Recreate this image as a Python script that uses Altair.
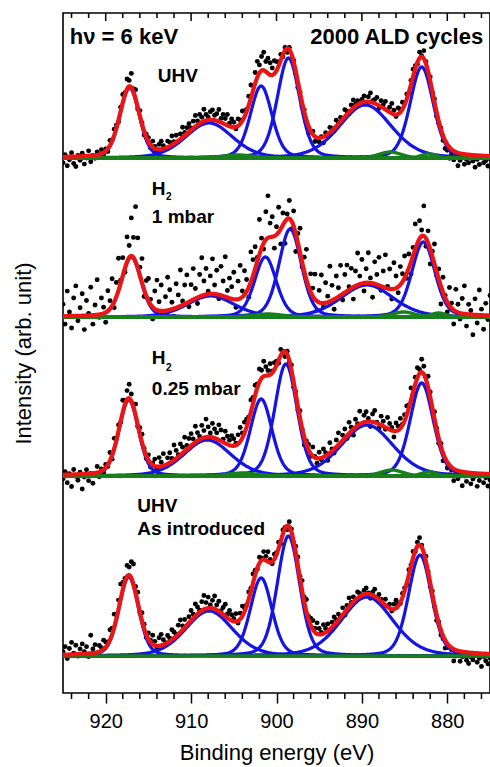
import numpy as np
import pandas as pd
import altair as alt

# ---------------- data ----------------
spectra = ["UHV, 2000 ALD cycles", "H2 1 mbar", "H2 0.25 mbar", "UHV as introduced"]
offsets = [535, 376, 217, 37]          # vertical stacking offset of each spectrum

# Ce 3d components (blue): position (eV), height, FWHM (eV)
fwhm = [2.7, 6.5, 3.0, 3.1, 7.2, 3.2]
eta = 0.25                              # Lorentzian fraction of the pseudo-Voigt
pos_1 = [917.2, 907.9, 901.8, 898.6, 889.6, 883.0]
amp_1 = [70, 35, 72, 100, 53, 91]
pos_2 = [917.0, 907.7, 901.3, 898.4, 889.4, 882.8]
amp_2 = [60, 21, 60, 88, 32, 75]
pos_3 = [917.3, 908.1, 901.8, 898.9, 889.4, 883.0]
amp_3 = [76, 36, 77, 112, 51, 93]
pos_4 = [917.3, 907.9, 901.8, 898.6, 889.4, 883.2]
amp_4 = [79, 45, 78, 120, 59, 101]

# small green components
gpos_1 = [904.5, 886.7, 882.2]
gamp_1 = [3, 6, 4]
gpos_2 = [901.0, 885.1, 881.0]
gamp_2 = [3, 5, 4]
gpos_3 = [904.0, 886.5, 882.2]
gamp_3 = [3, 6, 4]
gpos_4 = []
gamp_4 = []
gfwhm = [4.0, 3.0, 2.0]

# measured points: deviation from the fit, every 0.25 eV from 925 to 875 eV
resid_1 = """
-6 2 -9 -3 4 -7 -10 1 -4 3 -8 -2 5 -6 0 -3 3 -1 4 -2
2 -3 5 1 6 3 -2 4 8 2 10 6 14 3 9 -2 5 1 -4 3
4 -3 6 2 -2 5 8 3 -1 6 4 9 2 7 -1 5 10 3 6 8
2 7 11 4 9 5 12 6 3 8 10 5 7 12 4 9 6 11 3 8
5 -2 7 4 10 6 2 9 13 5 11 16 8 14 18 10 15 12 7 13
9 4 6 -2 3 -4 2 -5 1 -3 -6 0 -4 2 -3 -7 -1 3 -5 -2
-4 1 -6 3 -2 5 2 -3 6 1 4 -1 7 3 -2 5 8 2 4 -1
3 6 -2 5 9 2 4 7 -3 6 3 8 1 5 10 4 -2 6 3 7
2 5 -1 4 7 3 -2 6 1 8 2 -3 4 -1 3 -4 -2 1 -5 -8
-6 -11 -4 -9 -2 -13 -7 -3 -10 -5 -8 -1 -6 -12 -4 -9 -2 -7 -5 -10 -3
"""
resid_2 = """
12 -8 25 4 -12 18 30 -5 8 22 -14 15 2 28 -9 10 35 -3 16 6
-10 20 8 27 -6 14 32 3 18 -4 25 12 38 20 55 30 8 24 -7 15
22 5 -12 18 30 9 26 -3 14 33 20 7 -8 24 12 36 4 19 28 -5
16 31 10 -6 22 38 14 26 3 18 35 9 24 -4 29 15 40 7 20 12
27 -8 18 33 6 24 12 -10 30 16 22 4 35 10 -6 28 42 14 20 -12
8 25 -15 12 -22 5 18 -8 15 -18 9 24 -5 14 30 -2 18 8 25 -9
12 28 -4 20 6 35 15 -10 22 9 30 -6 18 26 3 20 -12 15 32 8
24 -8 14 30 5 -14 22 10 28 -4 16 33 2 20 -10 26 12 -6 18 8
22 -5 14 -12 8 25 -2 18 6 30 -8 12 -15 5 20 -4 10 -18 15 2
-10 18 5 -14 22 8 -6 15 28 -12 10 4 -20 16 -8 25 6 -14 12 -4 20
"""
resid_3 = """
-4 3 -8 1 -12 5 -2 -6 2 -15 -3 4 -7 0 -10 -1 6 -5 2 -3
3 -2 8 -4 10 2 6 -1 12 4 9 14 7 3 11 -2 6 8 1 -3
5 -4 2 7 -2 9 4 12 -1 6 10 3 15 8 2 11 6 14 4 9
12 5 16 8 3 13 7 18 10 4 14 9 6 15 11 3 12 8 5 10
7 2 9 14 5 11 8 3 12 6 10 4 13 8 15 9 5 11 2 7
4 -3 6 1 -5 3 -2 5 -6 2 -4 7 -1 -8 3 5 -3 9 1 -5
6 -2 8 3 -6 10 2 -4 7 12 -1 5 9 -3 11 4 -6 8 2 13
-2 7 10 3 -5 8 12 1 -4 9 5 -2 11 6 3 -6 8 4 10 1
6 9 3 12 -2 7 10 4 13 8 2 11 5 -3 7 1 -5 3 -8 -2
-6 -10 -3 -12 -5 -8 -1 -14 -4 -9 -2 -11 -6 -3 -13 -7 -1 -9 -4 -12 -6
"""
resid_4 = """
3 8 -4 6 12 1 9 -2 5 10 2 7 -3 18 4 8 -1 6 3 9
5 2 10 6 13 4 9 15 7 3 11 8 16 20 6 10 -1 8 4 -3
6 2 9 4 -2 8 11 5 1 7 3 10 6 2 9 12 4 8 -1 6
10 4 12 7 2 9 14 6 11 3 8 13 5 10 2 7 12 4 9 6
3 8 -2 6 10 4 1 7 3 9 5 -1 6 2 8 4 10 3 -2 5
2 6 -3 4 1 -4 5 3 -2 6 8 2 10 5 12 3 7 9 4 11
6 2 9 4 7 -1 5 8 3 6 1 7 -3 4 9 2 5 -2 6 3
-2 4 6 1 -4 3 7 -1 5 2 -3 6 1 4 -2 5 8 2 -1 4
3 -2 5 1 6 -1 4 7 2 -3 5 0 -4 3 -2 -6 1 -5 -3 -8
-4 -9 -2 -12 -6 -3 -10 -5 -1 -8 -11 -4 -7 -2 -9 -5 -13 -3 -7 -10 -4
"""

major_ticks = [920, 910, 900, 890, 880]
minor_ticks = [924, 922, 918, 916, 914, 912, 908, 906, 904, 902, 898, 896, 894, 892,
               888, 886, 884, 882, 878, 876]

# ---------------- build tables ----------------
def pvoigt(x, c, h, w):
    r = ((x - c) / w) ** 2
    return h * ((1 - eta) * np.exp(-4 * np.log(2) * r) + eta / (1 + 4 * r))

e_line = np.round(np.linspace(925, 875, 501), 2)
e_pts = np.round(np.linspace(925, 875, 201), 2)

params = [(pos_1, amp_1, gpos_1, gamp_1, resid_1),
          (pos_2, amp_2, gpos_2, gamp_2, resid_2),
          (pos_3, amp_3, gpos_3, gamp_3, resid_3),
          (pos_4, amp_4, gpos_4, gamp_4, resid_4)]

dots, blue, green, red = [], [], [], []
for s, (name, off, (pos, amp, gp, ga, rs)) in enumerate(zip(spectra, offsets, params)):
    total_line = np.zeros_like(e_line)
    total_pts = np.zeros_like(e_pts)
    for k, (c, h, w) in enumerate(zip(pos, amp, fwhm)):
        yl = pvoigt(e_line, c, h, w)
        total_line += yl
        total_pts += pvoigt(e_pts, c, h, w)
        blue.append(pd.DataFrame({"E": e_line, "I": off + yl, "key": f"{s}-b{k}"}))
    green.append(pd.DataFrame({"E": e_line, "I": off + 0 * e_line, "key": f"{s}-g0"}))
    for k, (c, h) in enumerate(zip(gp, ga)):
        yl = pvoigt(e_line, c, h, gfwhm[k])
        total_line += yl
        total_pts += pvoigt(e_pts, c, h, gfwhm[k])
        green.append(pd.DataFrame({"E": e_line, "I": off + yl, "key": f"{s}-g{k+1}"}))
    red.append(pd.DataFrame({"E": e_line, "I": off + total_line, "key": f"{s}"}))
    r = np.array([float(v) for v in rs.split()])
    assert len(r) == len(e_pts), (s, len(r))
    dots.append(pd.DataFrame({"E": e_pts, "I": off + total_pts + r, "key": f"{s}"}))

dots_df = pd.concat(dots)
blue_df = pd.concat(blue)
green_df = pd.concat(green)
red_df = pd.concat(red)

# annotations (anchor in data coordinates)
hdr_df = pd.DataFrame({"E": [924.2], "I": [649], "t": ["hν = 6 keV"]})
hdr_r_df = pd.DataFrame({"E": [875.8], "I": [649], "t": ["2000 ALD cycles"]})
lab_df = pd.DataFrame({
    "E": [913.9, 914.6, 914.6, 914.6, 914.6, 916.3, 916.3],
    "I": [611, 498, 470, 329.5, 298, 181, 158],
    "t": ["UHV", "H", "1 mbar", "H", "0.25 mbar", "UHV", "As introduced"],
})
sub_df = pd.DataFrame({"E": [912.95, 912.95], "I": [493, 322], "t": ["2", "2"]})
minor_df = pd.DataFrame({"E": minor_ticks})
major_df = pd.DataFrame({"E": major_ticks})

# ---------------- chart ----------------
FONT = "Liberation Sans"
xs = alt.Scale(domain=[875, 925], reverse=True, nice=False, zero=False)
ys = alt.Scale(domain=[0, 680], nice=False, zero=False)
X = alt.X("E:Q", scale=xs, axis=alt.Axis(
    values=major_ticks, title="Binding energy (eV)", format="d",
    labelFontSize=20, labelPadding=8, tickSize=10, tickWidth=1.5, tickColor="black",
    labelColor="black", domain=False, grid=False, titleFontSize=22,
    titleFontWeight="normal", titleColor="black", titleBaseline="alphabetic", titleY=66))
Y = alt.Y("I:Q", scale=ys, axis=alt.Axis(
    title="Intensity (arb. unit)", labels=False, ticks=False, domain=False, grid=False,
    titleFontSize=22, titleFontWeight="normal", titleColor="black",
    titleBaseline="alphabetic", titleX=-33))

l_dots = alt.Chart(dots_df).mark_circle(size=24, color="black", opacity=1, clip=True).encode(
    x=X, y=Y)
l_blue = alt.Chart(blue_df).mark_line(color="#1414e4", strokeWidth=3.2, clip=True).encode(
    x=X, y=Y, detail="key:N")
l_green = alt.Chart(green_df).mark_line(color="#18801a", strokeWidth=3.4, clip=True).encode(
    x=X, y=Y, detail="key:N")
l_red = alt.Chart(red_df).mark_line(color="#ec1515", strokeWidth=4.2, clip=True).encode(
    x=X, y=Y, detail="key:N")

tick_minor_b = alt.Chart(minor_df).mark_rule(color="black", strokeWidth=1.5).encode(
    x=X, y=alt.value(680), y2=alt.value(686))
tick_minor_t = alt.Chart(minor_df).mark_rule(color="black", strokeWidth=1.5).encode(
    x=X, y=alt.value(0), y2=alt.value(5))
tick_major_t = alt.Chart(major_df).mark_rule(color="black", strokeWidth=1.5).encode(
    x=X, y=alt.value(0), y2=alt.value(8))

t_hdr = alt.Chart(hdr_df).mark_text(font=FONT, fontSize=22, fontWeight="bold", align="left",
                                    baseline="alphabetic", color="black").encode(x=X, y=Y, text="t:N")
t_hdr_r = alt.Chart(hdr_r_df).mark_text(font=FONT, fontSize=22, fontWeight="bold", align="right",
                                        baseline="alphabetic", color="black").encode(x=X, y=Y, text="t:N")
t_lab = alt.Chart(lab_df).mark_text(font=FONT, fontSize=19, fontWeight="bold", align="left",
                                    baseline="alphabetic", color="black").encode(x=X, y=Y, text="t:N")
t_sub = alt.Chart(sub_df).mark_text(font=FONT, fontSize=10, fontWeight="bold", align="left",
                                    baseline="alphabetic", color="black").encode(x=X, y=Y, text="t:N")

chart = alt.layer(
    l_dots, l_blue, l_green, l_red, tick_minor_b, tick_minor_t, tick_major_t,
    t_hdr, t_hdr_r, t_lab, t_sub
).properties(
    width=427, height=680,
    autosize=alt.AutoSizeParams(type="none"),
    padding={"left": 63, "top": 13, "right": 0, "bottom": 74},
    background="white",
).configure_view(
    stroke="black", strokeWidth=1.6
).configure_axis(
    labelFont=FONT, titleFont=FONT
)

chart.save("out.html", embed_options={"renderer": "svg", "actions": False})
